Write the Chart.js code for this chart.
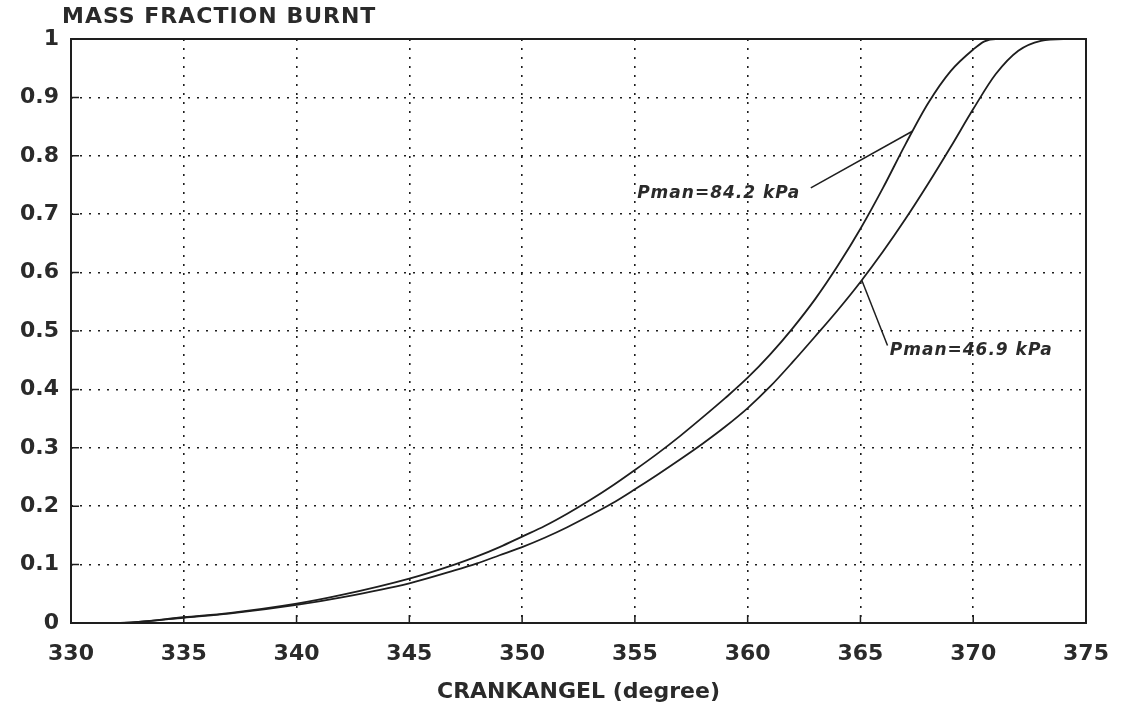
<!DOCTYPE html>
<html>
<head>
<meta charset="utf-8">
<script src="https://cdn.jsdelivr.net/npm/chart.js@4"></script>
<style>
html, body { margin: 0; padding: 0; background: #fff; }
#wrap { width: 1135px; height: 705px; }
</style>
</head>
<body>
<div id="wrap"><canvas id="burnChart" width="1135" height="705"></canvas></div>
<script>
// crank angle (degree) vs mass fraction burnt
const angleHigh = [330, 332, 333, 335, 337, 340, 342, 345, 347, 348, 349, 350, 351, 352, 353, 354, 355, 356, 357, 358, 359, 360, 361, 362, 363, 364, 365, 366, 367, 368, 369, 370, 370.5, 371, 375];
const burntHigh = [0, 0, 0.002, 0.01, 0.017, 0.033, 0.048, 0.076, 0.1, 0.114, 0.13, 0.148, 0.166, 0.187, 0.21, 0.235, 0.262, 0.29, 0.32, 0.352, 0.385, 0.42, 0.46, 0.505, 0.555, 0.612, 0.675, 0.745, 0.82, 0.89, 0.945, 0.982, 0.996, 1, 1];

const angleLow = [330, 332, 333, 335, 337, 340, 342, 345, 347, 348, 349, 350, 351, 352, 353, 354, 355, 356, 357, 358, 359, 360, 361, 362, 363, 364, 365, 366, 367, 368, 369, 370, 371, 372, 373, 374, 375];
const burntLow = [0, 0, 0.002, 0.009, 0.016, 0.031, 0.044, 0.068, 0.09, 0.102, 0.116, 0.13, 0.146, 0.164, 0.184, 0.205, 0.229, 0.254, 0.28, 0.307, 0.336, 0.368, 0.405, 0.447, 0.491, 0.536, 0.584, 0.636, 0.692, 0.752, 0.815, 0.88, 0.94, 0.98, 0.997, 1, 1];

const seriesNames = ['Pman=84.2 kPa', 'Pman=46.9 kPa'];

// label text anchor and leader line, in data units
const labelAt = [
    { text: seriesNames[0], x: 355.1, y: 0.736, from: [362.8, 0.745], to: [367.3, 0.842] },
    { text: seriesNames[1], x: 366.3, y: 0.466, from: [366.2, 0.475], to: [365.06, 0.587] }
];

const ink = '#1e1e1e';

function toPoints(xs, ys) {
    return xs.map((x, i) => ({ x: x, y: ys[i] }));
}

// frame, small inner ticks, y title and curve labels
const paperPlugin = {
    id: 'paper',
    afterDraw(chart) {
        const ctx = chart.ctx;
        const a = chart.chartArea;
        const xs = chart.scales.x;
        const ys = chart.scales.y;
        ctx.save();
        ctx.strokeStyle = ink;
        ctx.lineWidth = 2;
        ctx.strokeRect(a.left, a.top, a.right - a.left, a.bottom - a.top);

        ctx.lineWidth = 1.5;
        ctx.beginPath();
        xs.ticks.forEach((t, i) => {
            const px = xs.getPixelForTick(i);
            ctx.moveTo(px, a.bottom);
            ctx.lineTo(px, a.bottom - 8);
        });
        ys.ticks.forEach((t, i) => {
            const py = ys.getPixelForTick(i);
            ctx.moveTo(a.left, py);
            ctx.lineTo(a.left + 8, py);
        });
        ctx.stroke();

        ctx.fillStyle = '#2a2a2a';
        ctx.font = 'bold 22px "DejaVu Sans"';
        ctx.letterSpacing = '1px';
        ctx.textAlign = 'left';
        ctx.textBaseline = 'middle';
        ctx.fillText('MASS FRACTION BURNT', a.left - 9, 17);

        ctx.font = 'italic bold 17px "DejaVu Sans"';
        ctx.letterSpacing = '1px';
        labelAt.forEach(l => {
            ctx.fillText(l.text, xs.getPixelForValue(l.x), ys.getPixelForValue(l.y));
            ctx.beginPath();
            ctx.moveTo(xs.getPixelForValue(l.from[0]), ys.getPixelForValue(l.from[1]));
            ctx.lineTo(xs.getPixelForValue(l.to[0]), ys.getPixelForValue(l.to[1]));
            ctx.stroke();
        });
        ctx.restore();
    }
};

new Chart(document.getElementById('burnChart'), {
    type: 'scatter',
    data: {
        datasets: [
            {
                label: seriesNames[0],
                data: toPoints(angleHigh, burntHigh),
                showLine: true,
                borderColor: ink,
                borderWidth: 1.8,
                pointRadius: 0,
                cubicInterpolationMode: 'monotone'
            },
            {
                label: seriesNames[1],
                data: toPoints(angleLow, burntLow),
                showLine: true,
                borderColor: ink,
                borderWidth: 1.8,
                pointRadius: 0,
                cubicInterpolationMode: 'monotone'
            }
        ]
    },
    options: {
        responsive: false,
        animation: false,
        layout: { padding: { left: 0, right: 49, top: 39, bottom: 0 } },
        plugins: {
            legend: { display: false },
            tooltip: { enabled: false }
        },
        scales: {
            x: {
                type: 'linear',
                min: 330,
                max: 375,
                afterFit(scale) { scale.height = 82; },
                ticks: {
                    stepSize: 5,
                    padding: 18,
                    color: '#2a2a2a',
                    font: { family: 'DejaVu Sans', size: 22, weight: 'bold' }
                },
                grid: { color: ink, lineWidth: 1.6, drawTicks: false },
                border: { display: false, dash: [2, 7] },
                title: {
                    display: true,
                    text: 'CRANKANGEL (degree)',
                    color: '#2a2a2a',
                    padding: { top: 4, bottom: 0 },
                    font: { family: 'DejaVu Sans', size: 22, weight: 'bold' }
                }
            },
            y: {
                min: 0,
                max: 1,
                afterFit(scale) { scale.width = 71; },
                ticks: {
                    stepSize: 0.1,
                    padding: 12,
                    color: '#2a2a2a',
                    font: { family: 'DejaVu Sans', size: 22, weight: 'bold' },
                    callback: v => String(Number(v.toFixed(1)))
                },
                grid: { color: ink, lineWidth: 1.6, drawTicks: false },
                border: { display: false, dash: [2, 7] }
            }
        }
    },
    plugins: [paperPlugin]
});
</script>
</body>
</html>
